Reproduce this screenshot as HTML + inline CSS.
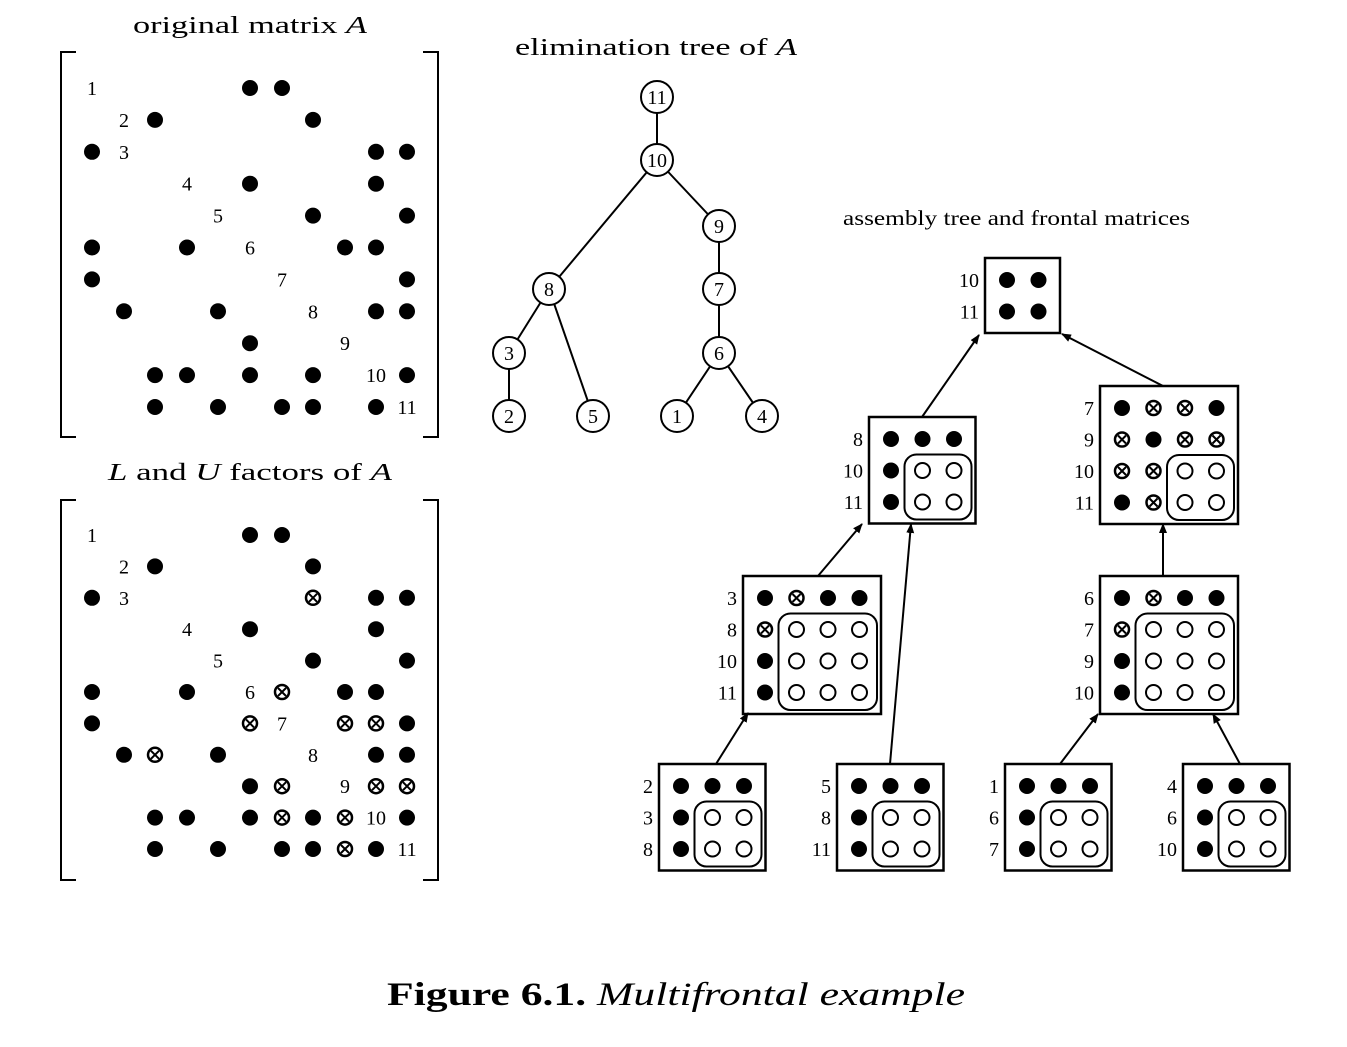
<!DOCTYPE html>
<html><head><meta charset="utf-8"><style>
body{margin:0;background:#fff;}
svg{display:block}
text{font-family:"Liberation Serif",serif;fill:#000}
</style></head><body>
<svg id="s" width="1347" height="1047" xmlns="http://www.w3.org/2000/svg">
<defs><marker id="ah" markerWidth="10" markerHeight="10" refX="9" refY="4" orient="auto" markerUnits="userSpaceOnUse"><path d="M0,0 L10,4 L0,8 Z" fill="#000"/></marker></defs>
<text x="133" y="33" font-size="24" textLength="234" lengthAdjust="spacingAndGlyphs">original matrix <tspan font-style="italic">A</tspan></text>
<text x="108" y="480" font-size="24" textLength="284" lengthAdjust="spacingAndGlyphs"><tspan font-style="italic">L</tspan> and <tspan font-style="italic">U</tspan> factors of <tspan font-style="italic">A</tspan></text>
<text x="515" y="55" font-size="24" textLength="282" lengthAdjust="spacingAndGlyphs">elimination tree of <tspan font-style="italic">A</tspan></text>
<text x="843" y="225" font-size="21" textLength="347" lengthAdjust="spacingAndGlyphs">assembly tree and frontal matrices</text>
<text x="387" y="1005" font-size="33" textLength="578" lengthAdjust="spacingAndGlyphs"><tspan font-weight="bold">Figure 6.1.</tspan> <tspan font-style="italic">Multifrontal example</tspan></text>
<g id="g"></g>
</svg>
<script>
var g=document.getElementById('g'),h='';
function dot(x,y){h+='<circle cx="'+x+'" cy="'+y+'" r="8" fill="#000"/>';}
function ot(x,y){h+='<circle cx="'+x+'" cy="'+y+'" r="7" fill="none" stroke="#000" stroke-width="2.5"/><path d="M'+(x-4)+','+(y-4)+'L'+(x+4)+','+(y+4)+'M'+(x+4)+','+(y-4)+'L'+(x-4)+','+(y+4)+'" stroke="#000" stroke-width="2"/>';}
function oc(x,y){h+='<circle cx="'+x+'" cy="'+y+'" r="7.5" fill="none" stroke="#000" stroke-width="2"/>';}
function tx(x,y,t,s,a){h+='<text x="'+x+'" y="'+y+'" font-size="'+(s||20)+'" text-anchor="'+(a||'middle')+'">'+t+'</text>';}
function ln(a,b,c,d,m){h+='<line x1="'+a+'" y1="'+b+'" x2="'+c+'" y2="'+d+'" stroke="#000" stroke-width="2"'+(m?' marker-end="url(#ah)"':'')+'/>';}
var cx=[0,92,124,155,187,218,250,282,313,345,376,407];
function mat(y0,rows){
 var dy=(y0==88)?31.9:31.4;
 for(var r=0;r<11;r++){var y=y0+r*dy,s=rows[r];
  for(var c=0;c<11;c++){var ch=s[c],x=cx[c+1];
   if(ch=='o')dot(x,y);else if(ch=='x')ot(x,y);else if(ch=='L')tx(x,y+7,r+1,20);}}}
mat(88,["L....oo....",".Lo....o...","oL.......oo","...L.o...o.","....L..o..o","o..o.L..oo.","o.....L...o",".o..o..L.oo",".....o..L..","..oo.o.o.Lo","..o.o.oo.oL"]);
mat(535,["L....oo....",".Lo....o...","oL.....x.oo","...L.o...o.","....L..o..o","o..o.Lx.oo.","o....xL.xxo",".ox.o..L.oo",".....ox.Lxx","..oo.oxoxLo","..o.o.ooxoL"]);
[[52,437],[500,880]].forEach(function(b){
 h+='<path d="M76,'+b[0]+' H61 V'+b[1]+' H76 M423,'+b[0]+' H438 V'+b[1]+' H423" fill="none" stroke="#000" stroke-width="2"/>';});
var N={11:[657,97],10:[657,160],9:[719,226],8:[549,289],7:[719,289],3:[509,353],6:[719,353],2:[509,416],5:[593,416],1:[677,416],4:[762,416]};
[[11,10],[10,8],[10,9],[9,7],[7,6],[8,3],[8,5],[3,2],[6,1],[6,4]].forEach(function(e){var a=N[e[0]],b=N[e[1]];ln(a[0],a[1],b[0],b[1]);});
for(var k in N){var p=N[k];h+='<circle cx="'+p[0]+'" cy="'+p[1]+'" r="16" fill="#fff" stroke="#000" stroke-width="2"/>';tx(p[0],p[1]+7,k,20);}
function box(x,y,labels,grid,st){var n=grid[0].length,m=labels.length,w=n*31.5+12,hh=m*31.5+12;
 h+='<rect x="'+x+'" y="'+y+'" width="'+w+'" height="'+hh+'" fill="none" stroke="#000" stroke-width="2.5"/>';
 for(var r=0;r<m;r++){var yy=y+22+r*31.5;tx(x-6,yy+7,labels[r],20,'end');
  for(var c=0;c<n;c++){var xx=x+22+c*31.5,ch=grid[r][c];if(ch=='o')dot(xx,yy);else if(ch=='x')ot(xx,yy);else if(ch=='c')oc(xx,yy);}}
 if(m>2){st=st||1;var ox=x+4+st*31.5,oy=y+6+st*31.5;
 h+='<rect x="'+ox+'" y="'+oy+'" width="'+(x+w-4-ox)+'" height="'+(y+hh-4-oy)+'" rx="12" fill="none" stroke="#000" stroke-width="2"/>';}
}
box(985,258,[10,11],["oo","oo"]);
box(869,417,[8,10,11],["ooo","occ","occ"]);
box(1100,386,[7,9,10,11],["oxxo","xoxx","xxcc","oxcc"],2);
box(743,576,[3,8,10,11],["oxoo","xccc","occc","occc"]);
box(1100,576,[6,7,9,10],["oxoo","xccc","occc","occc"]);
box(659,764,[2,3,8],["ooo","occ","occ"]);
box(837,764,[5,8,11],["ooo","occ","occ"]);
box(1005,764,[1,6,7],["ooo","occ","occ"]);
box(1183,764,[4,6,10],["ooo","occ","occ"]);
ln(716,764,748,713,1);ln(890,764,911,524,1);ln(818,576,862,524,1);
ln(1060,764,1098,714,1);ln(1240,764,1213,714,1);ln(1163,576,1163,524,1);
ln(922,417,979,335,1);ln(1163,386,1062,334,1);
g.innerHTML=h;
</script>
</body></html>
